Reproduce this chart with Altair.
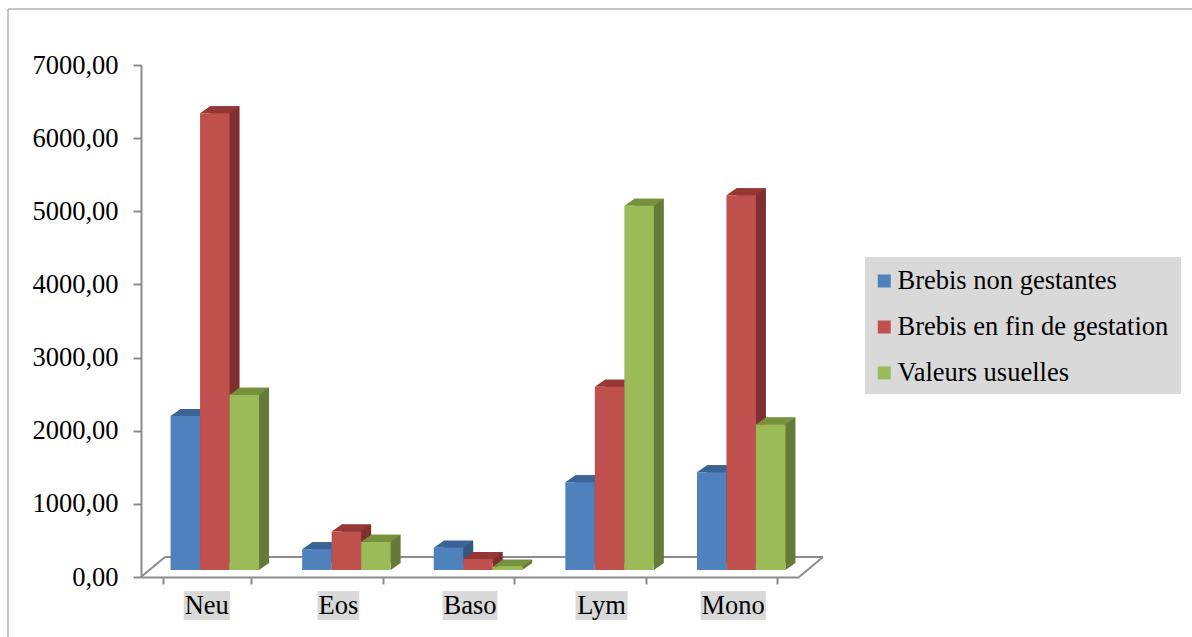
import altair as alt
import pandas as pd

# Leukocyte counts per cell type and group
categories = ["Neu", "Eos", "Baso", "Lym", "Mono"]
series = ["Brebis non gestantes", "Brebis en fin de gestation", "Valeurs usuelles"]
non_gestantes = [2105, 285, 305, 1200, 1335]
fin_gestation = [6245, 525, 150, 2505, 5125]
valeurs_usuelles = [2395, 385, 45, 4980, 1990]
y_ticks = [0, 1000, 2000, 3000, 4000, 5000, 6000, 7000]

# Palette: front faces, top faces, side faces
front_colors = ["#4F81BD", "#C0504D", "#9BBB59"]
top_colors = ["#3B6496", "#953735", "#76923C"]
side_colors = ["#34587F", "#7D302F", "#657A39"]

FONT = "Liberation Serif"
FONT_SIZE = 26.5
GRAY = "#8C8C8C"
LABEL_BG = "#D9D9D9"

# Plot geometry (pixels)
W, H = 658, 512
PAD_INNER = 0.3275
CLUSTER_W = W / len(categories) * (1 - PAD_INNER)
BAR_W = CLUSTER_W / len(series)
SHIFT_X, SHIFT_Y = 8, 7      # bars stand a little behind the front axis plane
DX, DY = 10, 7               # depth of each column
FLOOR_DX, FLOOR_DY = 24, 20  # depth of the floor

rows = []
for i, cat in enumerate(categories):
    for s, vals in zip(series, [non_gestantes, fin_gestation, valeurs_usuelles]):
        rows.append({"cat": cat, "serie": s, "valeur": vals[i]})
df = pd.DataFrame(rows)


def fmt(v):
    return f"{v:.4f}"


def path(points, unit):
    pts = [(fmt(x / unit), fmt(y / unit)) for x, y in points]
    return "M" + "L".join(f"{x},{y}" for x, y in pts) + "Z"


# Top face (parallelogram) of each column, unit 20 px -> size 1600
TOP_UNIT = 20
half_top = (BAR_W + DX) / 2
top_shape = path([(-half_top, DY / 2), (half_top - DX, DY / 2),
                  (half_top, -DY / 2), (-half_top + DX, -DY / 2)], TOP_UNIT)
# Lower corner of the side face, unit 10 px -> size 400
TRI_UNIT = 10
tri_shape = path([(-DX / 2, -DY / 2), (-DX / 2, DY / 2), (DX / 2, -DY / 2)], TRI_UNIT)

x_scale = alt.Scale(domain=categories, paddingInner=PAD_INNER, paddingOuter=PAD_INNER / 2)
y_scale = alt.Scale(domain=[0, 7000], nice=False)

x_axis = alt.Axis(labels=False, title=None, tickBand="extent", domainColor=GRAY, domainWidth=2,
                  tickColor=GRAY, tickWidth=2, tickSize=7, grid=False)
y_axis = alt.Axis(values=y_ticks, labelExpr="replace(format(datum.value, '.2f'), '.', ',')",
                  grid=False, title=None, domainColor=GRAY, domainWidth=2, tickColor=GRAY,
                  tickWidth=2, tickSize=8, labelFont=FONT, labelFontSize=FONT_SIZE,
                  labelColor="black", labelPadding=15)

x_enc = alt.X("cat:N", scale=x_scale, axis=x_axis)
y_enc = alt.Y("valeur:Q", scale=y_scale, axis=y_axis)


def offset(shift):
    # position of each series inside its cluster, pushed right by `shift` pixels
    return alt.XOffset("serie:N", scale=alt.Scale(
        domain=series, range=[shift, shift + CLUSTER_W], paddingInner=0, paddingOuter=0))


def colors(rng, legend=None):
    return alt.Color("serie:N", scale=alt.Scale(domain=series, range=rng), legend=legend)


base = alt.Chart(df)

side = base.mark_bar(yOffset=-(SHIFT_Y + DY), y2Offset=-(SHIFT_Y + DY)).encode(
    x=x_enc, xOffset=offset(SHIFT_X + DX), y=y_enc, color=colors(side_colors),
)

# Point-drawn faces: one layer per series, placed from the cluster centre
corner_layers = []
top_layers = []
for i, s in enumerate(series):
    left = -CLUSTER_W / 2 + SHIFT_X + i * BAR_W       # left edge of the front face
    sub = base.transform_filter(alt.datum.serie == s)
    corner_layers.append(sub.mark_point(
        shape=tri_shape, size=(2 * TRI_UNIT) ** 2, filled=True, opacity=1, strokeWidth=0,
        color=side_colors[i], xOffset=left + BAR_W + DX / 2, yOffset=-(SHIFT_Y + DY / 2),
    ).encode(x=x_enc, y=alt.Y(datum=0, scale=y_scale, axis=y_axis)))
    top_layers.append(sub.mark_point(
        shape=top_shape, size=(2 * TOP_UNIT) ** 2, filled=True, opacity=1, strokeWidth=0,
        color=top_colors[i], xOffset=left + (BAR_W + DX) / 2, yOffset=-(SHIFT_Y + DY / 2),
    ).encode(x=x_enc, y=y_enc))

# Legend panel: grey box plus the colour legend laid over it
LEG_X, LEG_Y, LEG_W, LEG_H = 724, 192, 316, 137
legend = alt.Legend(
    title=None, orient="none", legendX=LEG_X, legendY=LEG_Y + 4.75, direction="vertical",
    symbolType="square", symbolSize=169, symbolStrokeWidth=0, labelFont=FONT,
    labelFontSize=FONT_SIZE, labelColor="black", padding=6,
    rowPadding=19, labelOffset=0, labelLimit=0)

front = base.mark_bar(yOffset=-SHIFT_Y, y2Offset=-SHIFT_Y).encode(
    x=x_enc, xOffset=offset(SHIFT_X), y=y_enc, color=colors(front_colors, legend),
)

one = pd.DataFrame({"k": [0]})
legend_box = alt.Chart(one).mark_rect(fill=LABEL_BG).encode(
    x=alt.value(LEG_X), x2=alt.value(LEG_X + LEG_W), y=alt.value(LEG_Y), y2=alt.value(LEG_Y + LEG_H))

# Category labels with their grey highlight boxes
TIMES_W = {"N": 0.722, "e": 0.444, "u": 0.5, "E": 0.611, "o": 0.5, "s": 0.389,
           "B": 0.667, "a": 0.444, "L": 0.611, "y": 0.5, "m": 0.778, "M": 0.889, "n": 0.5}
BOX_UNIT = 50
BOX_H = 29
label_rows = []
for cat in categories:
    w = sum(TIMES_W.get(ch, 0.5) for ch in cat) * FONT_SIZE + 2
    label_rows.append({"cat": cat, "box": path(
        [(-w / 2, -BOX_H / 2), (w / 2, -BOX_H / 2), (w / 2, BOX_H / 2), (-w / 2, BOX_H / 2)], BOX_UNIT)})
labels_df = pd.DataFrame(label_rows)

label_boxes = alt.Chart(labels_df).mark_point(
    filled=True, opacity=1, strokeWidth=0, size=(2 * BOX_UNIT) ** 2, color=LABEL_BG,
).encode(
    x=x_enc,
    y=alt.value(H + 28.5),
    shape=alt.Shape("box:N", scale=None, legend=None),
)
label_text = alt.Chart(labels_df).mark_text(
    font=FONT, fontSize=FONT_SIZE, color="black", baseline="alphabetic", align="center",
).encode(
    x=x_enc,
    y=alt.value(H + 37),
    text="cat:N",
)

# Floor of the 3-D plot area and the outer frame
floor_back = alt.Chart(one).mark_rule(color=GRAY, strokeWidth=2).encode(
    x=alt.value(FLOOR_DX), x2=alt.value(W + FLOOR_DX), y=alt.value(H - FLOOR_DY), y2=alt.value(H - FLOOR_DY))
floor_left = alt.Chart(one).mark_rule(color=GRAY, strokeWidth=2).encode(
    x=alt.value(0), x2=alt.value(FLOOR_DX), y=alt.value(H), y2=alt.value(H - FLOOR_DY))
floor_right = alt.Chart(one).mark_rule(color=GRAY, strokeWidth=2).encode(
    x=alt.value(W), x2=alt.value(W + FLOOR_DX), y=alt.value(H), y2=alt.value(H - FLOOR_DY))
frame = alt.Chart(one).mark_rect(fill="white", fillOpacity=0, stroke=GRAY, strokeWidth=1).encode(
    x=alt.value(-133), x2=alt.value(1200), y=alt.value(-56), y2=alt.value(700))

chart = alt.layer(
    frame, legend_box, floor_back, floor_left, floor_right,
    side, *corner_layers, *top_layers, front, label_boxes, label_text,
).resolve_scale(color="independent", xOffset="independent").properties(
    width=W, height=H,
    padding={"left": 141, "top": 65, "right": 1192 - 141 - W, "bottom": 637 - 65 - H},
    autosize=alt.AutoSizeParams(type="none"),
    background="white",
).configure_view(stroke=None)

chart.save("out.html", embed_options={"renderer": "svg", "actions": False})
